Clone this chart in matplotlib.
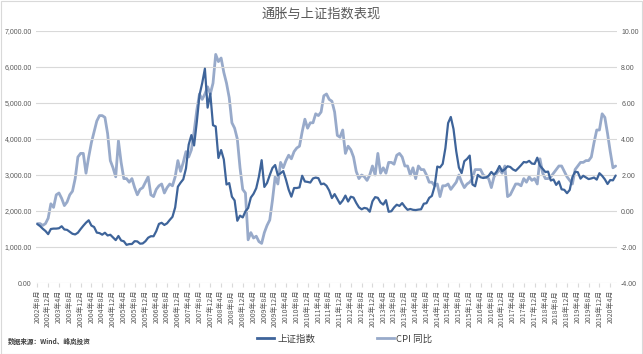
import matplotlib
matplotlib.use("Agg")
import matplotlib.pyplot as plt
from matplotlib.lines import Line2D
from matplotlib.patches import Rectangle
from matplotlib.ticker import FuncFormatter, MultipleLocator, FixedLocator

plt.rcParams['font.family'] = ['Noto Sans CJK SC', 'DejaVu Sans']

# Monthly data, 2002-08 .. 2020-06
start_year, start_month = 2002, 8
sh_index = [
    1636, 1581, 1507, 1445, 1357,
    1500, 1511, 1511, 1521, 1576, 1487, 1476, 1421, 1367, 1349, 1397, 1497,
    1590, 1675, 1742, 1595, 1555, 1400, 1386, 1342, 1396, 1320, 1340, 1267,
    1191, 1306, 1181, 1159, 1060, 1081, 1083, 1162, 1155, 1092, 1099, 1161,
    1258, 1299, 1298, 1440, 1642, 1672, 1612, 1658, 1753, 1838, 2099, 2675,
    2786, 2881, 3183, 3841, 4109, 3821, 4471, 5218, 5552, 5954, 4871, 5262,
    4383, 4348, 3473, 3693, 3433, 2736, 2775, 2397, 2293, 1729, 1871, 1821,
    1991, 2082, 2373, 2477, 2633, 2959, 3412, 2668, 2779, 2996, 3195, 3277,
    2989, 3051, 3109, 2871, 2592, 2398, 2638, 2639, 2656, 2979, 2820, 2808,
    2790, 2905, 2928, 2911, 2743, 2762, 2701, 2568, 2359, 2469, 2333, 2199,
    2292, 2428, 2263, 2397, 2373, 2225, 2103, 2047, 2086, 2069, 1980, 2269,
    2385, 2366, 2237, 2178, 2301, 1979, 1994, 2098, 2175, 2141, 2220, 2116,
    2033, 2056, 2033, 2026, 2039, 2048, 2202, 2217, 2364, 2420, 2683, 3235,
    3210, 3310, 3748, 4442, 4612, 4277, 3664, 3206, 3053, 3383, 3446, 3539,
    2738, 2688, 3004, 2938, 2917, 2930, 2979, 3085, 3005, 3100, 3250, 3104,
    3159, 3242, 3223, 3155, 3117, 3192, 3273, 3361, 3349, 3393, 3317, 3307,
    3481, 3259, 3169, 3082, 3095, 2847, 2876, 2725, 2821, 2603, 2588, 2494,
    2585, 2941, 3091, 3078, 2899, 2979, 2933, 2886, 2905, 2929, 2872, 3050,
    2977, 2880, 2750, 2860, 2852, 2985,
]
cpi_yoy = [
    -0.7, -0.7, -0.8, -0.7, -0.4,
    0.4, 0.2, 0.9, 1.0, 0.7, 0.3, 0.5, 0.9, 1.1, 1.8, 3.0, 3.2,
    3.2, 2.1, 3.0, 3.8, 4.4, 5.0, 5.3, 5.3, 5.2, 4.3, 2.8, 2.4,
    1.9, 3.9, 2.7, 1.8, 1.8, 1.6, 1.8, 1.3, 0.9, 1.2, 1.3, 1.6,
    1.9, 0.9, 0.8, 1.2, 1.4, 1.5, 1.0, 1.3, 1.5, 1.4, 1.9, 2.8,
    2.2, 2.7, 3.3, 3.0, 3.4, 4.4, 5.6, 6.5, 6.2, 6.5, 6.9, 6.5,
    7.1, 8.7, 8.3, 8.5, 7.7, 7.1, 6.3, 4.9, 4.6, 4.0, 2.4, 1.2,
    1.0, -1.6, -1.2, -1.5, -1.4, -1.7, -1.8, -1.2, -0.8, -0.5, 0.6, 1.9,
    1.5, 2.7, 2.4, 2.8, 3.1, 2.9, 3.3, 3.5, 3.6, 4.4, 5.1, 4.6,
    4.9, 4.9, 5.4, 5.3, 5.5, 6.4, 6.5, 6.2, 6.1, 5.5, 4.2, 4.1,
    4.5, 3.2, 3.6, 3.4, 3.0, 2.2, 1.8, 2.0, 1.9, 1.7, 2.0, 2.5,
    2.0, 3.2, 2.1, 2.4, 2.1, 2.7, 2.7, 2.6, 3.1, 3.2, 3.0, 2.5,
    2.5, 2.0, 2.4, 1.8, 2.5, 2.3, 2.3, 2.0, 1.6, 1.6, 1.4, 1.5,
    0.8, 1.4, 1.4, 1.5, 1.2, 1.4, 1.6, 2.0, 1.6, 1.3, 1.5, 1.6,
    1.8, 2.3, 2.3, 2.3, 2.0, 1.9, 1.8, 1.3, 1.9, 2.1, 2.3, 2.1,
    2.5, 0.8, 0.9, 1.2, 1.5, 1.5, 1.4, 1.8, 1.6, 1.9, 1.7, 1.8,
    1.5, 2.9, 2.1, 1.8, 1.8, 1.9, 2.1, 2.3, 2.5, 2.5, 2.2, 1.9,
    1.7, 1.5, 2.3, 2.5, 2.7, 2.7, 2.8, 2.8, 3.0, 3.8, 4.5, 4.5,
    5.4, 5.2, 4.3, 3.3, 2.4, 2.5,
]

months = []
y, m = start_year, start_month
for _ in range(len(sh_index)):
    months.append(f"{y}年{m}月")
    m += 1
    if m > 12:
        m = 1
        y += 1

title = "通胀与上证指数表现"
source = "数据来源：Wind、峰岚投资"
label_sh = "上证指数"
label_cpi = "CPI 同比"

c_sh = "#3E649A"
c_cpi = "#98AACA"
grid_c = "#D9D9D9"
txt_c = "#595959"

W, H = 643, 354
fig = plt.figure(figsize=(W / 100, H / 100), dpi=100)
fig.patch.set_facecolor("white")

left, right, top, bottom = 36, 617, 31, 283
ax = fig.add_axes([left / W, 1 - bottom / H, (right - left) / W, (bottom - top) / H])
ax2 = ax.twinx()

x = list(range(len(months)))
ax.set_zorder(ax2.get_zorder() + 1)
ax.patch.set_visible(False)
ax2.plot(x, cpi_yoy, color=c_cpi, lw=2.0, solid_joinstyle="round", solid_capstyle="round")
ax.plot(x, sh_index, color=c_sh, lw=1.6, solid_joinstyle="round", solid_capstyle="round")

ax.set_xlim(-0.5, len(months) - 0.5)
ax.set_ylim(0, 7000)
ax2.set_ylim(-4, 10)
ax.yaxis.set_major_locator(MultipleLocator(1000))
ax2.yaxis.set_major_locator(MultipleLocator(2))
ax.yaxis.set_major_formatter(FuncFormatter(lambda v, p: f"{v:,.2f}"))
ax2.yaxis.set_major_formatter(FuncFormatter(lambda v, p: f"{v:.2f}"))

for a in (ax, ax2):
    for s in a.spines.values():
        s.set_visible(False)
ax.grid(axis="y", color=grid_c, lw=0.8)
ax.set_axisbelow(True)

tick_pos = x[::4]
ax.xaxis.set_major_locator(FixedLocator(tick_pos))
ax.set_xticklabels([months[i] for i in tick_pos], rotation=90, fontsize=5.0,
                   color=txt_c, va="top", ha="center")
ax.tick_params(axis="x", length=3, color=grid_c, pad=2)
ax.tick_params(axis="y", length=0, pad=3, labelsize=5, labelcolor=txt_c)
ax2.tick_params(axis="y", length=0, pad=3, labelsize=5, labelcolor=txt_c)
for lab in ax.get_yticklabels() + ax2.get_yticklabels():
    lab.set_fontfamily(["Liberation Sans", "DejaVu Sans"])

fig.text(321 / W, 1 - 14 / H, title, ha="center", va="center", fontsize=9.5, color=txt_c)
fig.text(8 / W, 1 - 341 / H, source, ha="left", va="center", fontsize=4.8, color="#404040",
         fontweight="bold")

handles = [Line2D([], [], color=c_sh, lw=2.0), Line2D([], [], color=c_cpi, lw=2.0)]
fig.legend(handles, [label_sh, label_cpi], loc="center", bbox_to_anchor=(345 / W, 1 - 339 / H),
           ncol=2, frameon=False, fontsize=6.8, handlelength=1.8, handletextpad=0.3,
           columnspacing=6.5, labelcolor="#404040")

fig.add_artist(Rectangle((0.5 / W, 0.5 / H), 1 - 1.5 / W, 1 - 1.5 / H, transform=fig.transFigure,
                         fill=False, edgecolor=grid_c, lw=0.8))

fig.savefig("out.png", dpi=100)
